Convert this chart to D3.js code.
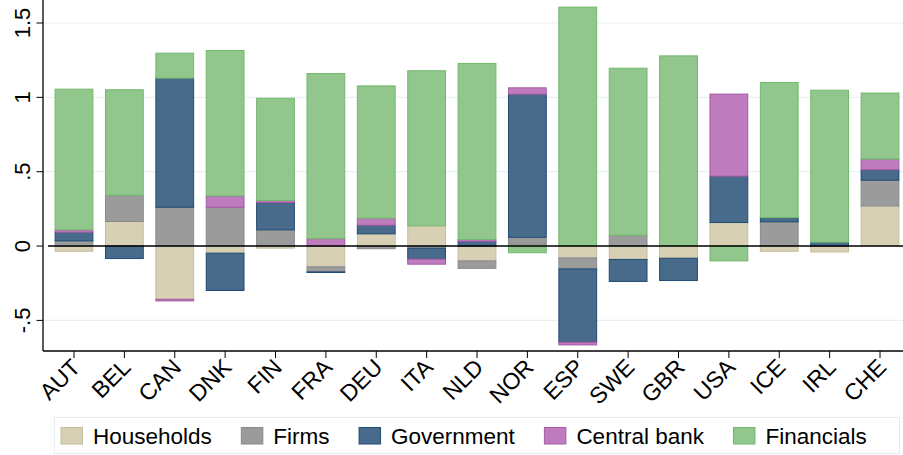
<!DOCTYPE html>
<html>
<head>
<meta charset="utf-8">
<title>Sector contributions</title>
<script src="https://cdn.jsdelivr.net/npm/d3@7"></script>
<style>
  body { margin: 0; background: #fff; }
  svg text { font-family: "Liberation Sans", Arial, Helvetica, sans-serif; fill: #000; }
</style>
</head>
<body>
<svg id="chart" width="903" height="455"></svg>
<script>
// categories
var countries = ["AUT","BEL","CAN","DNK","FIN","FRA","DEU","ITA","NLD","NOR","ESP","SWE","GBR","USA","ICE","IRL","CHE"];

// series values
var households  = [-0.035, 0.165, -0.358, -0.048, -0.014, -0.140, 0.082, 0.136, -0.100, 0.012, -0.080, -0.090, -0.082, 0.158, -0.035, -0.040, 0.270];
var firms       = [ 0.035, 0.177,  0.261,  0.261,  0.109, -0.034, -0.018, -0.015, -0.050, 0.047, -0.074, 0.073, 0.000, 0.000, 0.163, 0.000, 0.173];
var government  = [ 0.058, -0.084, 0.868, -0.251,  0.184, -0.004, 0.058, -0.073, 0.032, 0.962, -0.493, -0.148, -0.150, 0.312, 0.029, 0.026, 0.070];
var centralBank = [ 0.016, 0.000, -0.011,  0.076,  0.013,  0.050, 0.047, -0.034, 0.012, 0.043, -0.018, 0.000, 0.000, 0.552, 0.000, 0.000, 0.072];
var financials  = [ 0.946, 0.709,  0.168,  0.978,  0.688,  1.110, 0.890, 1.043, 1.184, -0.045, 1.607, 1.123, 1.279, -0.100, 0.908, 1.022, 0.444];

var seriesNames = ["Households", "Firms", "Government", "Central bank", "Financials"];
var seriesValues = [households, firms, government, centralBank, financials];
var fills   = ["#d8d0b5", "#9b9b9b", "#486b8c", "#be7bbe", "#91c68c"];
var strokes = ["#c6bd9e", "#858a90", "#1f4b73", "#a65aa6", "#72b86c"];

var yTicks = [-0.5, 0, 0.5, 1, 1.5];
var yTickLabels = ["-.5", "0", ".5", "1", "1.5"];

var svg = d3.select("#chart");
var plotLeft = 43, plotRight = 903, plotTop = 0, plotBottom = 351;

var x = d3.scalePoint().domain(countries).range([74, 880]);
var barW = x.step() * 0.75;
var y = d3.scaleLinear().domain([-0.5, 1.5]).range([320.4, 23]);

// table for the stack
var rows = countries.map(function(c, i) {
  var r = { country: c };
  seriesNames.forEach(function(s, j) { r[s] = seriesValues[j][i]; });
  return r;
});
var stacked = d3.stack().keys(seriesNames).offset(d3.stackOffsetDiverging)(rows);

// grid lines
svg.append("g").selectAll("line")
  .data(yTicks.filter(function(d){ return d != 0; }))
  .enter().append("line")
  .attr("x1", plotLeft).attr("x2", plotRight)
  .attr("y1", function(d){ return y(d); }).attr("y2", function(d){ return y(d); })
  .attr("stroke", "#e9f0f2").attr("stroke-width", 1.2);

// bars
svg.append("g").selectAll("g")
  .data(stacked).enter().append("g")
  .attr("fill", function(d, i){ return fills[i]; })
  .attr("stroke", function(d, i){ return strokes[i]; })
  .selectAll("rect")
  .data(function(d){ return d.filter(function(p){ return p[1] - p[0] != 0; }); })
  .enter().append("rect")
  .attr("x", function(d){ return x(d.data.country) - barW / 2; })
  .attr("width", barW)
  .attr("y", function(d){ return y(Math.max(d[0], d[1])); })
  .attr("height", function(d){ return Math.abs(y(d[0]) - y(d[1])); })
  .attr("stroke-width", 1);

// zero line
svg.append("line")
  .attr("x1", 48).attr("x2", plotRight)
  .attr("y1", y(0)).attr("y2", y(0))
  .attr("stroke", "#000").attr("stroke-width", 1.4);

// y axis
svg.append("line").attr("x1", plotLeft).attr("x2", plotLeft)
  .attr("y1", plotTop).attr("y2", plotBottom)
  .attr("stroke", "#000").attr("stroke-width", 1.3);
var yt = svg.append("g").selectAll("g").data(yTicks).enter().append("g");
yt.append("line")
  .attr("x1", 36.5).attr("x2", plotLeft)
  .attr("y1", function(d){ return y(d); }).attr("y2", function(d){ return y(d); })
  .attr("stroke", "#000").attr("stroke-width", 1);
yt.append("text")
  .attr("transform", function(d){ return "translate(29.5," + y(d) + ") rotate(-90)"; })
  .attr("text-anchor", "middle")
  .attr("font-size", "22px")
  .text(function(d, i){ return yTickLabels[i]; });

// x axis
svg.append("line").attr("x1", plotLeft).attr("x2", plotRight)
  .attr("y1", plotBottom).attr("y2", plotBottom)
  .attr("stroke", "#000").attr("stroke-width", 1.3);
var xt = svg.append("g").selectAll("g").data(countries).enter().append("g");
xt.append("line")
  .attr("x1", function(d){ return x(d); }).attr("x2", function(d){ return x(d); })
  .attr("y1", plotBottom).attr("y2", plotBottom + 7)
  .attr("stroke", "#000").attr("stroke-width", 1);
xt.append("text")
  .attr("transform", function(d){ return "translate(" + (x(d) - 4) + "," + (plotBottom + 6) + ") rotate(-45)"; })
  .attr("text-anchor", "end")
  .attr("dy", "0.72em")
  .attr("font-size", "23px")
  .text(function(d){ return d; });

// legend
var legend = svg.append("g");
legend.append("rect")
  .attr("x", 54.5).attr("y", 417.5).attr("width", 845).attr("height", 36)
  .attr("fill", "#fff").attr("stroke", "#e6eef0").attr("stroke-width", 1.2);
var lx = 61;
seriesNames.forEach(function(s, i) {
  legend.append("rect")
    .attr("x", lx).attr("y", 427.5).attr("width", 21.5).attr("height", 16.5)
    .attr("fill", fills[i]).attr("stroke", strokes[i]).attr("stroke-width", 1);
  var t = legend.append("text")
    .attr("x", lx + 32).attr("y", 444)
    .attr("font-size", "22.5px")
    .text(s);
  lx = lx + 32 + t.node().getComputedTextLength() + 29.5;
});
</script>
</body>
</html>
